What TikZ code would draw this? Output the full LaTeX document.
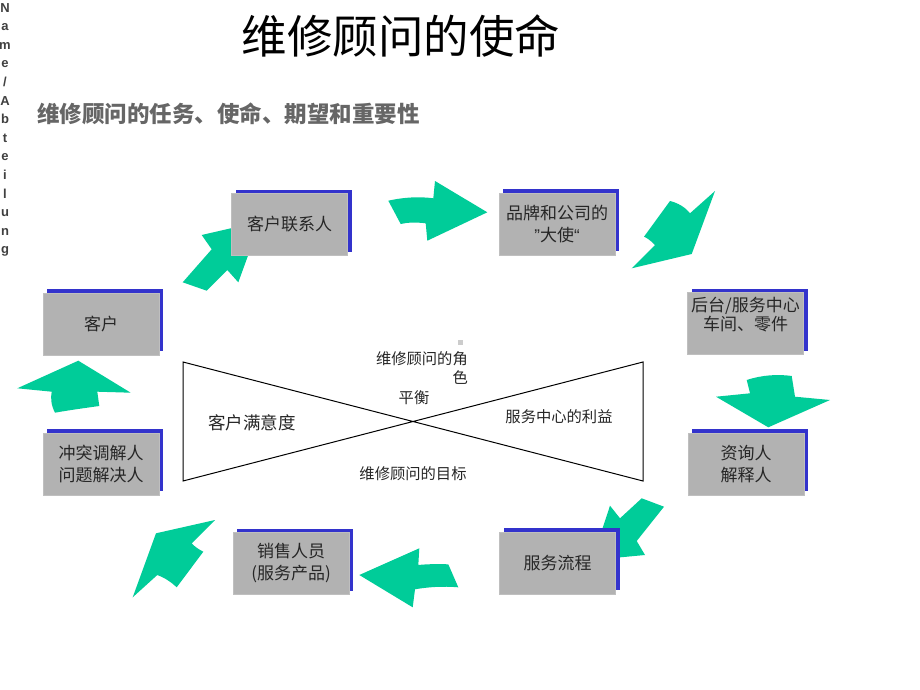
\documentclass[tikz,border=0pt]{standalone}
\usepackage{fontspec}
\setmainfont{Noto Sans CJK SC}
\newfontfamily\arialfont{Liberation Sans}
\usetikzlibrary{shadows}
\definecolor{arrowgreen}{RGB}{0,204,153}
\definecolor{shadowblue}{RGB}{51,51,204}
\definecolor{boxgray}{RGB}{178,178,178}

\begin{document}
\begin{tikzpicture}[x=1pt,y=-1pt,
    rolebox/.style={draw=black!25, fill=boxgray, minimum width=116pt, minimum height=62pt,
        inner sep=0pt, align=center, text=black!85, font=\fontsize{17}{22}\selectfont,
        general shadow={shadow xshift=4pt, shadow yshift=4pt, fill=shadowblue}},
    bigarrow/.style={fill=arrowgreen},
    tietext/.style={inner sep=0pt, text=black!85, font=\fontsize{15.3}{19}\selectfont}]
    \useasboundingbox[fill=white] (0,0) rectangle (920,690);

    % Titles
    \node (title) at (401,36) {\fontsize{45.5}{48}\selectfont 维修顾问的使命};
    \node[anchor=west, inner sep=0pt, text=black!60] (subtitle) at (37,114)
        {\fontsize{22.5}{26}\selectfont\bfseries 维修顾问的任务、使命、期望和重要性};
    \node[anchor=north, inner sep=0pt, align=center, text=black!75,
        font=\arialfont\bfseries\fontsize{13}{18.6}\selectfont] (dept) at (5,3)
        {N\\a\\m\\e\\/\\A\\b\\t\\e\\i\\l\\u\\n\\g};

    % Green arrows round the circle
    \fill[bigarrow] (182.7,282.3) -- (211.7,249.3) -- (201.7,235) -- (260.4,221.5)
        -- (238.3,282.3) -- (227.3,270) -- (206.7,290.7) -- cycle;
    \fill[bigarrow] (388.3,200.7) .. controls (405,197) and (420,196.5) .. (433.3,198.3)
        -- (435,181) -- (487.3,212.3) -- (427.3,240.7) -- (425.7,223.3)
        .. controls (415,222) and (407,222.5) .. (400.7,224) -- cycle;
    \fill[bigarrow] (670,201) .. controls (678,203) and (685,207) .. (690,213.3)
        -- (715,191) -- (691.7,254) -- (631.7,268.3) -- (655,245)
        .. controls (650,240) and (647,238) .. (644,236.7) -- cycle;
    \fill[bigarrow] (746.7,380) .. controls (762,375) and (778,374) .. (791.7,376)
        -- (795,396.7) -- (830,400) -- (768.3,427.3) -- (716,396.7) -- (750,393.3) -- cycle;
    \fill[bigarrow] (641.7,498.3) -- (664,506.7) -- (636.7,541) -- (645,555)
        -- (592,560) -- (610,505.7) -- (620,518.3) -- cycle;
    \fill[bigarrow] (359.3,575) -- (419.3,548.3) -- (418.3,565)
        .. controls (428,564) and (438,564) .. (448.3,564.3) -- (458.3,587.3)
        .. controls (443,586) and (428,587) .. (415,589.3) -- (412.7,607.3) -- cycle;
    \fill[bigarrow] (132.7,597.3) -- (156,533.3) -- (215,520) -- (191.7,543.3)
        .. controls (195,547) and (199,549.5) .. (203.3,551.7) -- (176.7,587.3)
        .. controls (170,581) and (163,577) .. (157.3,575) -- cycle;
    \fill[bigarrow] (78.3,360.7) -- (130.7,392.7) -- (97.3,391.7) -- (99.3,406)
        .. controls (85,408) and (70,410) .. (55,412.7)
        .. controls (51,405) and (50.5,398) .. (51.7,391.7) -- (17.3,388.3) -- cycle;

    % Role boxes
    \node[rolebox] (contact) at (289.5,224.5) {客户联系人};
    \node[rolebox] (brand) at (557,224) {品牌和公司的\\{\arialfont ”}大使{\arialfont “}};
    \node[rolebox, font=\fontsize{17}{19}\selectfont] (backoffice) at (745.5,323.5)
        {后台/服务中心\\车间、零件\\\mbox{}};
    \node[rolebox] (advisor) at (746,464) {资询人\\解释人};
    \node[rolebox] (process) at (557.5,563) {服务流程};
    \node[rolebox] (sales) at (291,563.5) {销售人员\\(服务产品)};
    \node[rolebox] (mediator) at (101,464) {冲突调解人\\问题解决人};
    \node[rolebox] (customer) at (101,324) {客户};

    % Balance bow tie
    \coordinate (tl) at (183,362);
    \coordinate (tr) at (643,362);
    \coordinate (bl) at (183,481);
    \coordinate (br) at (643,481);
    \draw[line width=1pt] (tl) -- (br) -- (tr) -- (bl) -- cycle;
    \fill[black!20] (457.5,339.5) rectangle (462.5,344.5);

    \node[tietext, anchor=east, align=right] (role) at (468,368.5) {维修顾问的角\\色};
    \node[tietext] (balance) at (414,398) {平衡};
    \node[tietext, font=\fontsize{17.5}{20}\selectfont] (satisfaction) at (252,423) {客户满意度};
    \node[tietext] (benefit) at (559,417) {服务中心的利益};
    \node[tietext] (goal) at (413,474) {维修顾问的目标};
\end{tikzpicture}
\end{document}
